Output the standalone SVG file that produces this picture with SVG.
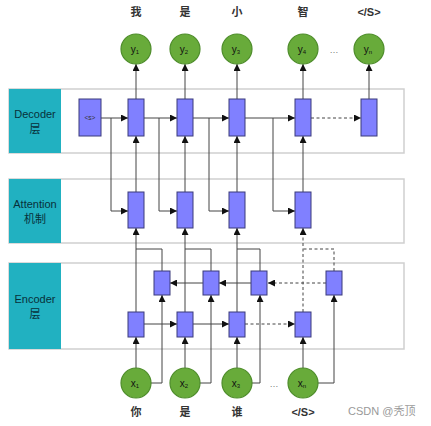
<svg xmlns="http://www.w3.org/2000/svg" width="431" height="426" viewBox="0 0 431 426">
<defs>
<marker id="ah" viewBox="0 0 8 8" refX="8" refY="4" markerWidth="7" markerHeight="7" markerUnits="userSpaceOnUse" orient="auto"><path d="M0,0 L8,4 L0,8 z" fill="#111"/></marker>
<style>
.panel{fill:#fff;stroke:#cfcfcf;stroke-width:1.5}
.tag{fill:#21b1c1}
.tagt{font-family:"Liberation Sans","Noto Sans CJK SC",sans-serif;font-size:11px;fill:#08303a;text-anchor:middle}
.box{fill:#8080ff;stroke:#3b3b7a;stroke-width:1}
.cir{fill:#68ab3a;stroke:#4d8c2a;stroke-width:1.2}
.ct{font-family:"Liberation Sans",sans-serif;font-size:10px;fill:#111;text-anchor:middle}
.sub{font-size:6px}
.lbl{font-family:"Liberation Sans","Noto Sans CJK SC",sans-serif;font-size:11px;font-weight:bold;fill:#333;text-anchor:middle}
.ln{fill:none;stroke:#444;stroke-width:1}
.ar{fill:none;stroke:#444;stroke-width:1;marker-end:url(#ah)}
.d{stroke-dasharray:3,2.5}
</style>
</defs>
<g id="decoder-layer"><rect class="panel" x="9" y="89" width="395" height="64"/><rect class="tag" x="9" y="89" width="52" height="64"/><text class="tagt" x="35" y="118">Decoder</text><text class="tagt" x="35" y="133">层</text></g>
<g id="attention-layer"><rect class="panel" x="9" y="179" width="395" height="64"/><rect class="tag" x="9" y="179" width="52" height="64"/><text class="tagt" x="35" y="208">Attention</text><text class="tagt" x="35" y="223">机制</text></g>
<g id="encoder-layer"><rect class="panel" x="9" y="263" width="395" height="86"/><rect class="tag" x="9" y="263" width="52" height="86"/><text class="tagt" x="35" y="303">Encoder</text><text class="tagt" x="35" y="318">层</text></g>
<g id="connectors">
<path class="ar" d="M136,99 V64"/><path class="ar" d="M185,99 V64"/><path class="ar" d="M237,99 V64"/><path class="ar" d="M303,99 V64"/><path class="ar" d="M369,99 V64"/>
<path class="ar" d="M101,118 H128"/><path class="ar" d="M144,118 H177"/><path class="ar" d="M193,118 H229"/><path class="ar" d="M245,118 H295"/><path class="ar d" d="M311,118 H361"/>
<path class="ar" d="M111,118 V211 H128"/><path class="ar" d="M159,118 V211 H177"/><path class="ar" d="M209,118 V211 H229"/><path class="ar" d="M273,118 V211 H295"/>
<path class="ar" d="M136,192 V136"/><path class="ar" d="M185,192 V136"/><path class="ar" d="M237,192 V136"/><path class="ar" d="M303,192 V136"/>
<path class="ar" d="M136,312 V228"/><path class="ln" d="M162,271 V249 H136"/>
<path class="ar" d="M185,312 V228"/><path class="ln" d="M211,271 V249 H185"/>
<path class="ar" d="M237,312 V228"/><path class="ln" d="M260,271 V249 H237"/>
<path class="ar d" d="M303,312 V228"/><path class="ln d" d="M334,271 V249 H303"/>
<path class="ar" d="M144,324 H177"/><path class="ar" d="M193,324 H229"/><path class="ar d" d="M245,324 H295"/>
<path class="ar" d="M203,283 H170"/><path class="ar" d="M251,283 H219"/><path class="ar d" d="M326,283 H268"/>
<path class="ar" d="M136,368 V337"/><path class="ar" d="M151,383 H162 V295"/>
<path class="ar" d="M185,368 V337"/><path class="ar" d="M200,383 H211 V295"/>
<path class="ar" d="M237,368 V337"/><path class="ar" d="M252,383 H260 V295"/>
<path class="ar" d="M303,368 V337"/><path class="ar" d="M318,383 H334 V295"/>
</g>
<g id="dec-s"><rect class="box" x="79" y="99" width="22" height="37"/><text x="90" y="120" font-family="Liberation Sans,sans-serif" font-size="6.5" text-anchor="middle" fill="#333">&lt;s&gt;</text></g>
<g id="dec1"><rect class="box" x="128" y="99" width="16" height="37"/></g>
<g id="dec2"><rect class="box" x="177" y="99" width="16" height="37"/></g>
<g id="dec3"><rect class="box" x="229" y="99" width="16" height="37"/></g>
<g id="dec4"><rect class="box" x="295" y="99" width="16" height="37"/></g>
<g id="dec5"><rect class="box" x="361" y="99" width="16" height="37"/></g>
<g id="att1"><rect class="box" x="128" y="192" width="16" height="36"/></g>
<g id="att2"><rect class="box" x="177" y="192" width="16" height="36"/></g>
<g id="att3"><rect class="box" x="229" y="192" width="16" height="36"/></g>
<g id="att4"><rect class="box" x="295" y="192" width="16" height="36"/></g>
<g id="enc-f1"><rect class="box" x="128" y="312" width="16" height="25"/></g>
<g id="enc-f2"><rect class="box" x="177" y="312" width="16" height="25"/></g>
<g id="enc-f3"><rect class="box" x="229" y="312" width="16" height="25"/></g>
<g id="enc-f4"><rect class="box" x="295" y="312" width="16" height="25"/></g>
<g id="enc-b1"><rect class="box" x="154" y="271" width="16" height="24"/></g>
<g id="enc-b2"><rect class="box" x="203" y="271" width="16" height="24"/></g>
<g id="enc-b3"><rect class="box" x="251" y="271" width="16" height="24"/></g>
<g id="enc-b4"><rect class="box" x="326" y="271" width="16" height="24"/></g>
<g id="y1"><circle class="cir" cx="136" cy="49" r="15"/><text class="ct" x="135" y="53">y<tspan class="sub" dy="1">1</tspan></text><text class="lbl" x="136" y="16">我</text></g>
<g id="y2"><circle class="cir" cx="185" cy="49" r="15"/><text class="ct" x="184" y="53">y<tspan class="sub" dy="1">2</tspan></text><text class="lbl" x="185" y="16">是</text></g>
<g id="y3"><circle class="cir" cx="237" cy="49" r="15"/><text class="ct" x="236" y="53">y<tspan class="sub" dy="1">3</tspan></text><text class="lbl" x="237" y="16">小</text></g>
<g id="y4"><circle class="cir" cx="303" cy="49" r="15"/><text class="ct" x="302" y="53">y<tspan class="sub" dy="1">4</tspan></text><text class="lbl" x="303" y="16">智</text></g>
<g id="yn"><circle class="cir" cx="369" cy="49" r="15"/><text class="ct" x="368" y="53">y<tspan class="sub" dy="1">n</tspan></text><text class="lbl" x="369" y="16" font-weight="normal">&lt;/S&gt;</text></g>
<text x="334" y="53" font-family="Liberation Sans,sans-serif" font-size="9" fill="#777" text-anchor="middle">…</text>
<g id="x1"><circle class="cir" cx="136" cy="383" r="15"/><text class="ct" x="135" y="387">x<tspan class="sub" dy="1">1</tspan></text><text class="lbl" x="136" y="416">你</text></g>
<g id="x2"><circle class="cir" cx="185" cy="383" r="15"/><text class="ct" x="184" y="387">x<tspan class="sub" dy="1">2</tspan></text><text class="lbl" x="185" y="416">是</text></g>
<g id="x3"><circle class="cir" cx="237" cy="383" r="15"/><text class="ct" x="236" y="387">x<tspan class="sub" dy="1">3</tspan></text><text class="lbl" x="237" y="416">谁</text></g>
<g id="xn"><circle class="cir" cx="303" cy="383" r="15"/><text class="ct" x="302" y="387">x<tspan class="sub" dy="1">n</tspan></text><text class="lbl" x="303" y="416" font-weight="normal">&lt;/S&gt;</text></g>
<text x="274" y="387" font-family="Liberation Sans,sans-serif" font-size="9" fill="#777" text-anchor="middle">…</text>
<text x="348" y="415" font-family="Liberation Sans,'Noto Sans CJK SC',sans-serif" font-size="11" fill="#999">CSDN @秃顶</text>
</svg>
